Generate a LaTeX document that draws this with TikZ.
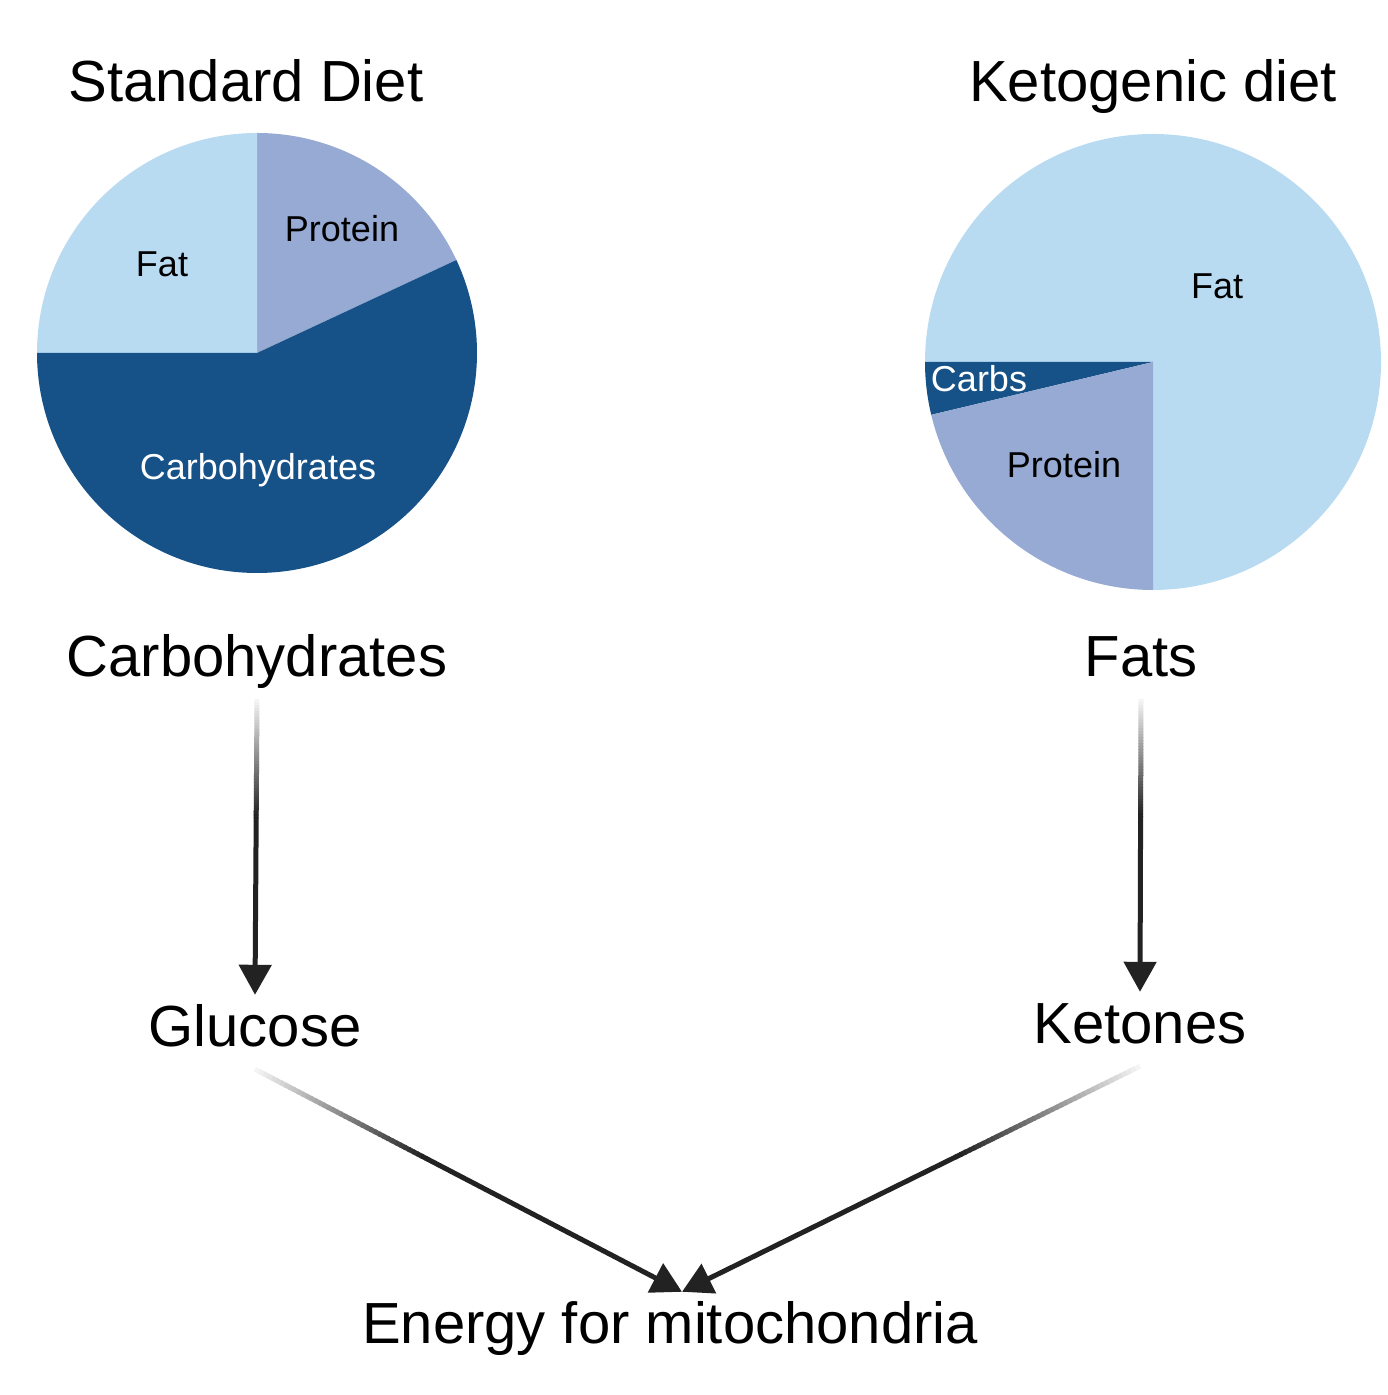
\documentclass[tikz,border=0pt]{standalone}
\usepackage{fontspec}
\setmainfont{Liberation Sans}
\usepackage{xcolor}
\usepackage{tikz}
\usetikzlibrary{positioning, calc, arrows.meta}

\definecolor{fatblue}{HTML}{B9DBF2}
\definecolor{protblue}{HTML}{96AAD3}
\definecolor{carbblue}{HTML}{165187}
\definecolor{arrowgray}{HTML}{222222}

% connector that fades in from light grey, then runs dark to its tip
\newcommand{\fadeconn}[2]{%
  \foreach \i in {0,...,39}{%
    \pgfmathsetmacro{\pa}{0.01*\i}%
    \pgfmathsetmacro{\pb}{0.01*\i+0.013}%
    \pgfmathsetmacro{\tone}{5+95*\i/39}%
    \draw[line width=5pt, arrowgray!\tone!white] ($(#1)!\pa!(#2)$) -- ($(#1)!\pb!(#2)$);
  }%
  \draw[connline] ($(#1)!0.4!(#2)$) -- (#2);
}

\begin{document}
\begin{tikzpicture}[x=1pt, y=1pt,
    bigtext/.style={font=\fontsize{58}{62}\selectfont, text height=42pt, text depth=12pt, inner sep=10pt, anchor=base},
    slicetext/.style={font=\fontsize{36}{40}\selectfont, inner sep=0pt, anchor=base},
    connline/.style={line width=5pt, draw=arrowgray, -{Triangle[length=30pt, width=32pt]}},]
            \useasboundingbox (0,0) rectangle (1388,1395);

            %Pies
            \coordinate (stdpie) at (257,1042);
            \coordinate (ketopie) at (1153,1033);
            \fill[protblue] (stdpie) -- ++(25:220pt) arc[start angle=25, end angle=90, radius=220pt] -- cycle;
            \fill[fatblue] (stdpie) -- ++(90:220pt) arc[start angle=90, end angle=180, radius=220pt] -- cycle;
            \fill[carbblue] (stdpie) -- ++(180:220pt) arc[start angle=180, end angle=385, radius=220pt] -- cycle;
            \fill[fatblue] (ketopie) -- ++(-90:228pt) arc[start angle=-90, end angle=180, radius=228pt] -- cycle;
            \fill[carbblue] (ketopie) -- ++(180:228pt) arc[start angle=180, end angle=193.4, radius=228pt] -- cycle;
            \fill[protblue] (ketopie) -- ++(193.4:228pt) arc[start angle=193.4, end angle=270, radius=228pt] -- cycle;

            %Slice labels
            \node[slicetext](std_fat) at (162,1118){Fat};
            \node[slicetext](std_protein) at (342,1153){Protein};
            \node[slicetext, text=white](std_carbs) at (258,915){Carbohydrates};
            \node[slicetext](keto_fat) at (1217,1096){Fat};
            \node[slicetext, text=white](keto_carbs) at (979,1003){Carbs};
            \node[slicetext](keto_protein) at (1064,917){Protein};

            %Nodes
            \node[bigtext](stdtitle) at (246,1293){Standard Diet};
            \node[bigtext](ketotitle) at (1153,1293){Ketogenic diet};
            \node[bigtext](carbs) at (257,718){Carbohydrates};
            \node[bigtext](fats) at (1141,718){Fats};
            \node[bigtext](glucose) at (255,348){Glucose};
            \node[bigtext](ketones) at (1140,351){Ketones};
            \node[bigtext](energy) at (670,51){Energy for mitochondria};
            \coordinate (energytip) at ([xshift=12pt]energy.north);

            %Lines
            \fadeconn{carbs.south}{glucose.north}
            \fadeconn{fats.south}{ketones.north}
            \fadeconn{glucose.south}{energytip}
            \fadeconn{ketones.south}{energytip}

        \end{tikzpicture}
\end{document}
